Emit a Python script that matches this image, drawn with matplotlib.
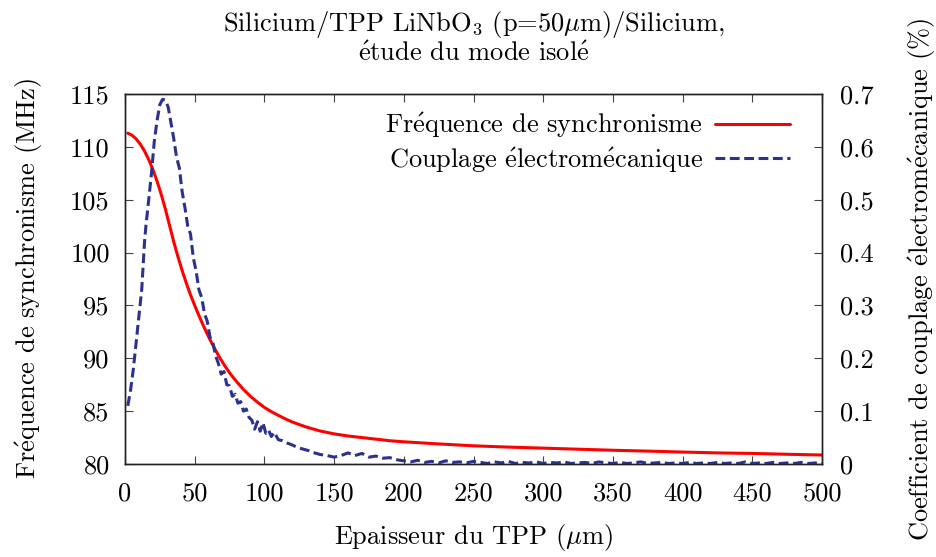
import matplotlib
matplotlib.use("Agg")
import matplotlib.pyplot as plt

plt.rcParams['font.family'] = ['cmr10', 'DejaVu Serif']
plt.rcParams['mathtext.fontset'] = 'cm'
plt.rcParams['axes.formatter.use_mathtext'] = True

# ---- data ----
freq_x = [2, 5, 8, 11, 14, 17, 20, 23, 26, 29, 32, 35, 38, 41, 44, 47, 50, 53, 56, 59,
          62, 65, 68, 72, 76, 80, 85, 90, 95, 100, 105, 110, 115, 120, 130, 140, 150,
          160, 170, 180, 190, 200, 225, 250, 275, 300, 325, 350, 375, 400, 425, 450,
          475, 500]
freq_y = [111.3, 111.1, 110.75, 110.25, 109.6, 108.8, 107.85, 106.75, 105.5, 104.1,
          102.55, 101.0, 99.6, 98.3, 97.1, 96.0, 95.0, 94.05, 93.15, 92.3, 91.5, 90.75,
          90.05, 89.2, 88.45, 87.8, 87.05, 86.4, 85.85, 85.35, 84.95, 84.6, 84.27, 83.97,
          83.5, 83.12, 82.85, 82.65, 82.5, 82.35, 82.2, 82.1, 81.9, 81.72, 81.6, 81.5,
          81.4, 81.3, 81.22, 81.13, 81.05, 81.0, 80.92, 80.85]

coup_x = [2, 4, 6, 8, 10, 12, 14, 15, 17, 19, 21, 23, 25, 27, 29, 31, 33, 35, 37, 39,
          41, 43, 45, 47, 49, 51, 53, 55, 57, 59, 61, 63, 65, 67, 69, 71, 73, 75, 77,
          79, 81, 83, 85, 87, 89, 91, 93, 95, 97, 99, 101, 103, 105, 107, 110, 113, 116,
          120, 124, 128, 132, 136, 140, 145, 150, 155, 160, 165, 170, 175, 180, 185,
          190, 195, 200, 205, 210, 215, 220, 225, 230, 235, 240, 245, 250, 255, 260,
          265, 270, 275, 280, 285, 290, 295, 300, 305, 310, 315, 320, 325, 330, 335,
          340, 345, 350, 355, 360, 365, 370, 375, 380, 385, 390, 395, 400, 405, 410,
          415, 420, 425, 430, 435, 440, 445, 450, 455, 460, 465, 470, 475, 480, 485,
          490, 495, 500]
coup_y = [0.11, 0.14, 0.18, 0.23, 0.28, 0.33, 0.42, 0.45, 0.50, 0.55, 0.61, 0.65, 0.68,
          0.69, 0.688, 0.675, 0.645, 0.615, 0.58, 0.56, 0.515, 0.485, 0.45, 0.435, 0.39,
          0.365, 0.33, 0.315, 0.285, 0.27, 0.24, 0.23, 0.205, 0.19, 0.17, 0.175, 0.15,
          0.148, 0.128, 0.132, 0.115, 0.118, 0.1, 0.104, 0.088, 0.083, 0.066, 0.08, 0.062,
          0.078, 0.058, 0.064, 0.052, 0.06, 0.046, 0.044, 0.04, 0.036, 0.031, 0.028,
          0.025, 0.021, 0.018, 0.016, 0.013, 0.016, 0.021, 0.016, 0.02, 0.013, 0.015,
          0.011, 0.012, 0.008, 0.006, 0.004, 0.007, 0.003, 0.005, 0.002, 0.006, 0.003,
          0.004, 0.002, 0.005, 0.003, 0.001, 0.004, 0.002, 0.005, 0.001, 0.003, 0.002,
          0.004, 0.001, 0.003, 0.002, 0.004, 0.001, 0.002, 0.003, 0.001, 0.004, 0.002,
          0.001, 0.003, 0.001, 0.002, 0.004, 0.001, 0.002, 0.003, 0.001, 0.002, 0.001,
          0.003, 0.001, 0.002, 0.001, 0.003, 0.001, 0.002, 0.001, 0.004, 0.001, 0.002,
          0.001, 0.003, 0.001, 0.002, 0.001, 0.003, 0.001, 0.002, 0.001]

x_ticks = [0, 50, 100, 150, 200, 250, 300, 350, 400, 450, 500]
y1_ticks = [80, 85, 90, 95, 100, 105, 110, 115]
y2_ticks = [0, 0.1, 0.2, 0.3, 0.4, 0.5, 0.6, 0.7]
y2_labels = ["0", "0.1", "0.2", "0.3", "0.4", "0.5", "0.6", "0.7"]

E = r'$\acute{\mathrm{e}}$'
MU = r'$\mu$'

fig = plt.figure(figsize=(9.37, 5.57), dpi=100)
ax = fig.add_axes([125/937, 1-464/557, (822-125)/937, (464-94)/557])
ax2 = ax.twinx()

FS = 19
red = '#ff0000'
blue = '#2b318e'

l1, = ax.plot(freq_x, freq_y, color=red, lw=2.2, solid_capstyle='round',
              label='Fr' + E + 'quence de synchronisme')
l2, = ax2.plot(coup_x, coup_y, color=blue, lw=2.2, dashes=(3.2, 1.5),
               label='Couplage ' + E + 'lectrom' + E + 'canique')

ax.set_xlim(0, 500)
ax.set_ylim(80, 115)
ax2.set_ylim(0, 0.7)
ax.set_xticks(x_ticks)
ax.set_xticklabels([str(t) for t in x_ticks])
ax.set_yticks(y1_ticks)
ax.set_yticklabels([str(t) for t in y1_ticks])
ax2.set_yticks(y2_ticks)
ax2.set_yticklabels(y2_labels)

for a in (ax, ax2):
    for s in a.spines.values():
        s.set_linewidth(1.0)
        s.set_color('#222222')
ax.tick_params(axis='x', direction='in', top=True, length=6, width=0.8, color='#444444',
               labelsize=FS, pad=13)
ax.tick_params(axis='y', direction='in', length=6, width=0.8, color='#444444',
               labelsize=FS, pad=11)
ax2.tick_params(axis='y', direction='in', length=6, width=0.8, color='#444444',
                labelsize=FS, pad=13)

ax.set_xlabel('Epaisseur du TPP (' + MU + 'm)', fontsize=FS, labelpad=12)
ax.set_ylabel('Fr' + E + 'quence de synchronisme (MHz)', fontsize=FS, labelpad=18)
ax2.set_ylabel('Coefficient de couplage ' + E + 'lectrom' + E + 'canique (%)',
               fontsize=FS, labelpad=24)
ax.set_title(r'Silicium/TPP LiNbO$_3$ (p=50' + MU + 'm)/Silicium,\n' + E +
             'tude du mode isol' + E, fontsize=FS, pad=24, linespacing=1.05)

leg = ax.legend(handles=[l1, l2], loc='upper right', frameon=False, markerfirst=False,
                fontsize=FS, handlelength=2.85, handletextpad=0.45, borderpad=0,
                borderaxespad=0, bbox_to_anchor=(0.954, 0.955), labelspacing=0.2)

fig.savefig('out.png', dpi=100)
